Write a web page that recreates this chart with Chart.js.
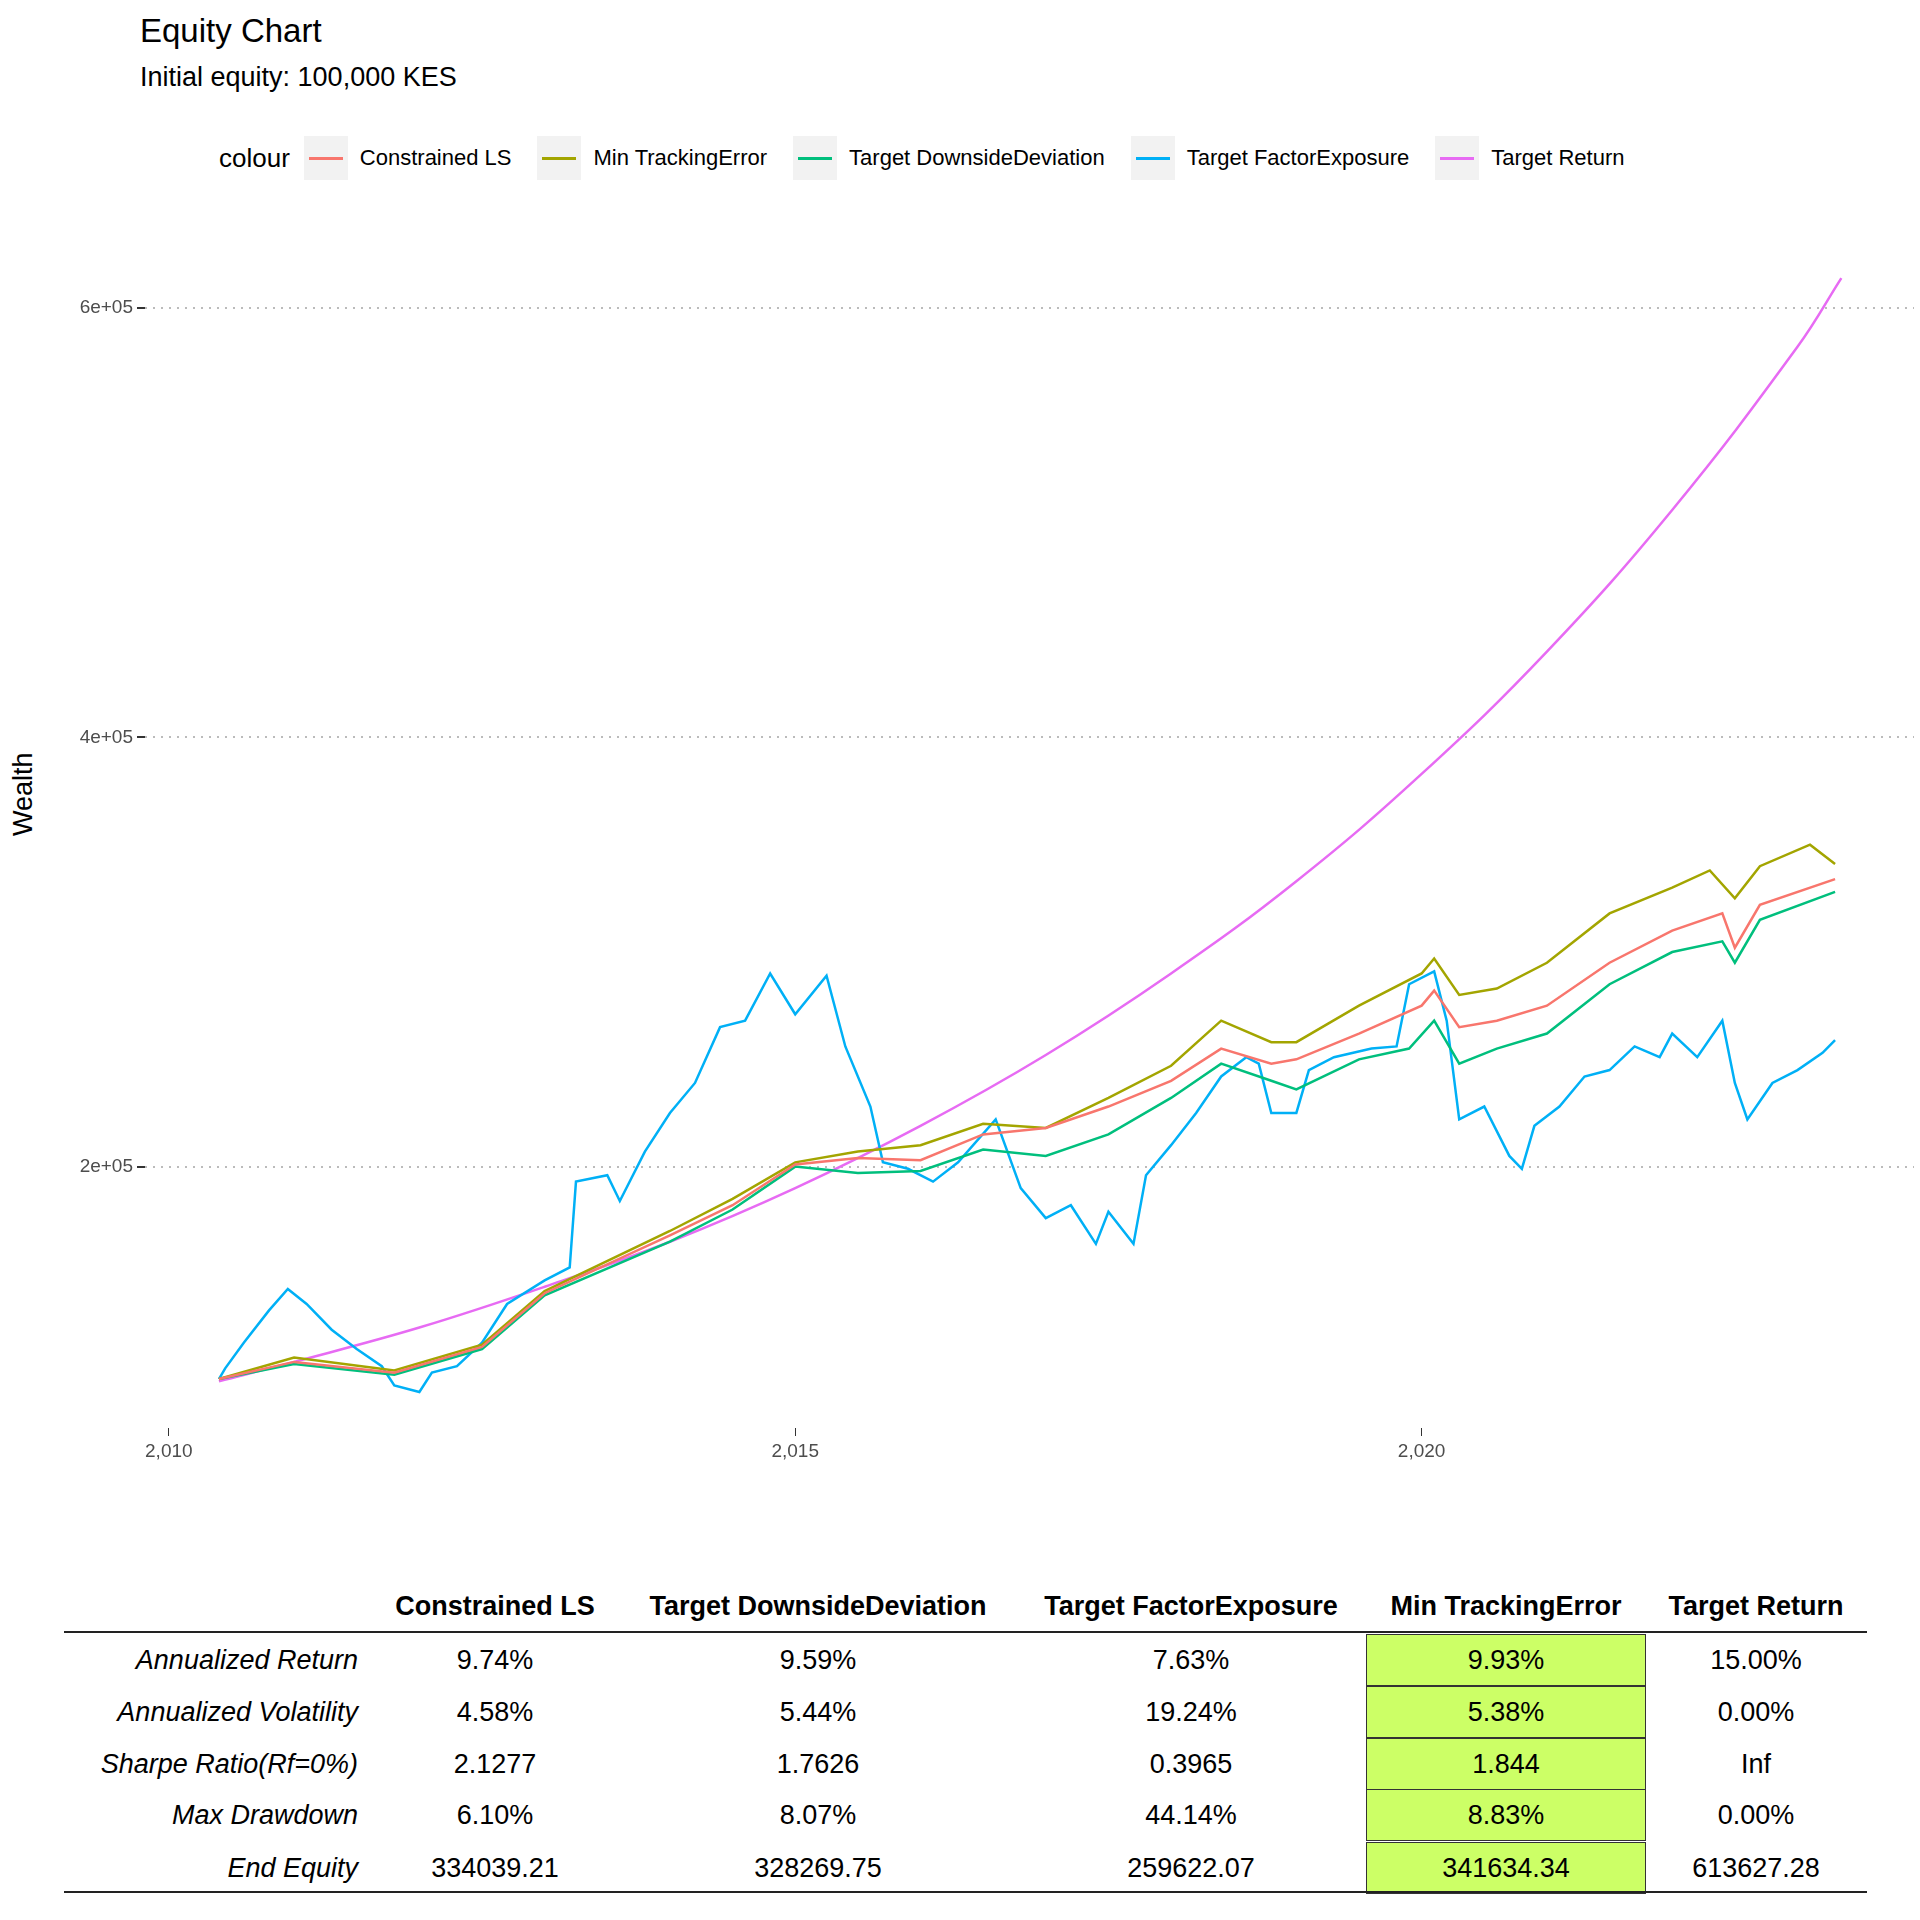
<!DOCTYPE html>
<html>
<head>
<meta charset="utf-8">
<script src="https://cdn.jsdelivr.net/npm/chart.js@4"></script>
<style>
  body { margin: 0; width: 1920px; height: 1920px; background: #fff; font-family: "Liberation Sans", Arial, sans-serif; position: relative; overflow: hidden; }
  .abs { position: absolute; }
  #title { left: 140px; top: 12px; font-size: 33px; }
  #subtitle { left: 140px; top: 62px; font-size: 27px; }
  #legend { left: 219px; top: 136px; display: flex; align-items: center; font-size: 22px; }
  #legend .lab { font-size: 26px; margin-right: 14px; }
  #legend .item { display: flex; align-items: center; margin-right: 26px; }
  #legend .key { width: 44px; height: 44px; background: #f2f2f2; position: relative; margin-right: 12px; }
  #legend .key span { position: absolute; left: 5px; right: 5px; top: 21px; height: 3px; }
  #wealth { left: 8px; top: 836px; font-size: 27px; transform: rotate(-90deg); transform-origin: left top; }
  #chart { left: 0; top: 200px; }
  .cell { position: absolute; font-size: 27px; transform: translate(-50%, -50%); white-space: nowrap; }
  .hdr { font-weight: bold; }
  .rowlab { position: absolute; font-size: 27px; font-style: italic; transform: translate(-100%, -50%); white-space: nowrap; }
  .hl { position: absolute; background: #ccff66; border: 1px solid #333; box-sizing: border-box; }
  .rule { position: absolute; left: 64px; width: 1803px; height: 2px; background: #222; }
</style>
</head>
<body>
<div id="title" class="abs">Equity Chart</div>
<div id="subtitle" class="abs">Initial equity: 100,000 KES</div>
<div id="legend" class="abs"></div>
<div id="wealth" class="abs">Wealth</div>
<canvas id="chart" class="abs" width="1920" height="1300"></canvas>
<div id="table"></div>
<script>
// series: [year, value]
const constrainedLS = [[2010.4,101000],[2011,109000],[2011.8,104000],[2012.5,116000],[2013,141000],[2014,168000],[2014.5,182000],[2015,201000],[2015.5,204000],[2016,203000],[2016.5,215000],[2017,218000],[2017.5,228000],[2018,240000],[2018.4,255000],[2018.8,248000],[2019,250000],[2019.5,262000],[2020,275000],[2020.1,282000],[2020.3,265000],[2020.6,268000],[2021,275000],[2021.5,295000],[2022,310000],[2022.4,318000],[2022.5,302000],[2022.7,322000],[2023.3,334000]];
const minTrackingError = [[2010.4,101000],[2011,111000],[2011.8,105000],[2012.5,117000],[2013,142000],[2014,170000],[2014.5,185000],[2015,202000],[2015.5,207000],[2016,210000],[2016.5,220000],[2017,218000],[2017.5,232000],[2018,247000],[2018.4,268000],[2018.8,258000],[2019,258000],[2019.5,275000],[2020,290000],[2020.1,297000],[2020.3,280000],[2020.6,283000],[2021,295000],[2021.5,318000],[2022,330000],[2022.3,338000],[2022.5,325000],[2022.7,340000],[2023.1,350000],[2023.3,341000]];
const targetDownside = [[2010.4,101000],[2011,108000],[2011.8,103000],[2012.5,115000],[2013,140000],[2014,165000],[2014.5,180000],[2015,200000],[2015.5,197000],[2016,198000],[2016.5,208000],[2017,205000],[2017.5,215000],[2018,232000],[2018.4,248000],[2018.8,240000],[2019,236000],[2019.5,250000],[2019.9,255000],[2020.1,268000],[2020.3,248000],[2020.6,255000],[2021,262000],[2021.5,285000],[2022,300000],[2022.4,305000],[2022.5,295000],[2022.7,315000],[2023.3,328000]];
const targetFactor = [[2010.4,101000],[2010.45,106000],[2010.6,118000],[2010.8,133000],[2010.95,143000],[2011.1,136000],[2011.3,124000],[2011.5,115000],[2011.7,107000],[2011.8,98000],[2012,95000],[2012.1,104000],[2012.3,107000],[2012.5,118000],[2012.7,136000],[2013,147000],[2013.2,153000],[2013.25,193000],[2013.5,196000],[2013.6,184000],[2013.8,207000],[2014,225000],[2014.2,239000],[2014.4,265000],[2014.6,268000],[2014.8,290000],[2015,271000],[2015.25,289000],[2015.4,256000],[2015.6,228000],[2015.7,202000],[2015.9,199000],[2016.1,193000],[2016.3,202000],[2016.6,222000],[2016.8,190000],[2017,176000],[2017.2,182000],[2017.4,164000],[2017.5,179000],[2017.7,164000],[2017.8,196000],[2018,210000],[2018.2,225000],[2018.4,242000],[2018.6,251000],[2018.7,248000],[2018.8,225000],[2019,225000],[2019.1,245000],[2019.3,251000],[2019.6,255000],[2019.8,256000],[2019.9,285000],[2020.1,291000],[2020.2,268000],[2020.3,222000],[2020.5,228000],[2020.7,205000],[2020.8,199000],[2020.9,219000],[2021.1,228000],[2021.3,242000],[2021.5,245000],[2021.7,256000],[2021.9,251000],[2022,262000],[2022.2,251000],[2022.4,268000],[2022.5,239000],[2022.6,222000],[2022.8,239000],[2023,245000],[2023.2,253000],[2023.3,259000]];
const targetReturn = [[2010.4,100000],[2011,109000],[2012,125000],[2013,144000],[2014,165000],[2015,190000],[2016,219000],[2017,252000],[2018,290000],[2019,333000],[2020,383000],[2021,440000],[2022,506000],[2023,582000],[2023.35,614000]];

const seriesNames = ["Constrained LS","Min TrackingError","Target DownsideDeviation","Target FactorExposure","Target Return"];
const seriesColors = ["#F8766D","#A3A500","#00BF7D","#00B0F6","#E76BF3"];
const seriesData = [constrainedLS, minTrackingError, targetDownside, targetFactor, targetReturn];

const xTicks = [2010, 2015, 2020];
const yTicks = [200000, 400000, 600000];

const tableCols = ["Constrained LS","Target DownsideDeviation","Target FactorExposure","Min TrackingError","Target Return"];
const tableRows = ["Annualized Return","Annualized Volatility","Sharpe Ratio(Rf=0%)","Max Drawdown","End Equity"];
const colConstrained = ["9.74%","4.58%","2.1277","6.10%","334039.21"];
const colDownside = ["9.59%","5.44%","1.7626","8.07%","328269.75"];
const colFactor = ["7.63%","19.24%","0.3965","44.14%","259622.07"];
const colTracking = ["9.93%","5.38%","1.844","8.83%","341634.34"];
const colReturn = ["15.00%","0.00%","Inf","0.00%","613627.28"];
const highlightCol = 3;

// legend
let leg = '<span class="lab">colour</span>';
seriesNames.forEach((n, i) => {
    leg += '<div class="item"><div class="key"><span style="background:' + seriesColors[i] + '"></span></div>' + n + '</div>';
});
document.getElementById('legend').innerHTML = leg;

new Chart("chart", {
    type: "line",
    data: {
        datasets: seriesData.map((d, i) => ({
            label: seriesNames[i],
            data: d.map(p => ({x: p[0], y: p[1]})),
            borderColor: seriesColors[i],
            borderWidth: 2.5,
            pointRadius: 0,
            tension: i == 4 ? 0.4 : 0,
            fill: false
        }))
    },
    options: {
        responsive: false,
        animation: false,
        devicePixelRatio: 1,
        layout: { padding: { top: 46, right: 6 } },
        plugins: { legend: { display: false }, tooltip: { enabled: false } },
        scales: {
            x: {
                type: 'linear', min: 2009.81, max: 2023.93,
                afterFit: s => { s.height = 72; },
                afterBuildTicks: s => { s.ticks = xTicks.map(v => ({value: v})); },
                border: { display: false },
                grid: { drawOnChartArea: false, tickLength: 8, color: '#333' },
                ticks: { color: '#4d4d4d', font: { size: 19, family: 'Liberation Sans' }, padding: 4 }
            },
            y: {
                min: 78200, max: 629000,
                afterFit: s => { s.width = 145; },
                afterBuildTicks: s => { s.ticks = yTicks.map(v => ({value: v})); },
                border: { display: false, dash: [2, 6] },
                grid: { color: '#bbbbbb', lineWidth: 2, tickLength: 8, tickColor: '#333', tickBorderDash: [] },
                ticks: {
                    color: '#4d4d4d', font: { size: 19, family: 'Liberation Sans' }, padding: 4,
                    callback: v => (v / 100000) + 'e+05'
                }
            }
        }
    }
});

// table
const colX = [495, 818, 1191, 1506, 1756];
const rowY = [1660, 1712, 1764, 1815, 1868];
const colsData = [colConstrained, colDownside, colFactor, colTracking, colReturn];
let html = '';
for (let r = 0; r < rowY.length; r++) {
    html += '<div class="hl" style="left:1366px;width:280px;top:' + (rowY[r] - 26) + 'px;height:' + 52 + 'px"></div>';
}
html += '<div class="rule" style="top:1631px"></div><div class="rule" style="top:1891px"></div>';
tableCols.forEach((c, i) => {
    html += '<div class="cell hdr" style="left:' + colX[i] + 'px;top:1606px">' + c + '</div>';
});
tableRows.forEach((r, j) => {
    html += '<div class="rowlab" style="left:358px;top:' + rowY[j] + 'px">' + r + '</div>';
    colsData.forEach((col, i) => {
        html += '<div class="cell" style="left:' + colX[i] + 'px;top:' + rowY[j] + 'px">' + col[j] + '</div>';
    });
});
document.getElementById('table').innerHTML = html;
</script>
</body>
</html>
